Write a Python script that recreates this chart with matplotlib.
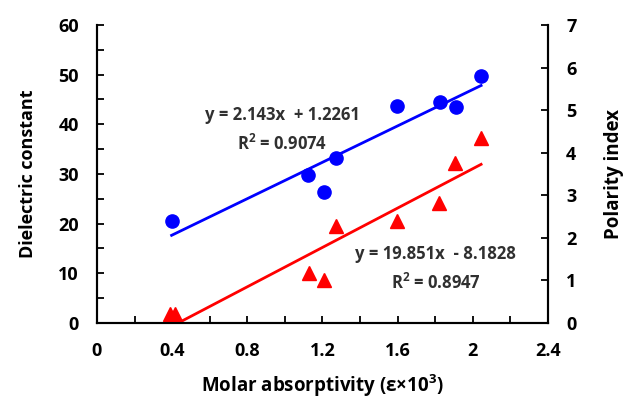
import numpy as np
import matplotlib.pyplot as plt
from matplotlib.ticker import MultipleLocator

plt.rcParams['font.family'] = ['Open Sans', 'DejaVu Sans']
plt.rcParams['font.weight'] = 'bold'
plt.rcParams['mathtext.default'] = 'regular'

# molar absorptivity (e x 10^3)
x_dielectric = [0.389, 0.415, 1.128, 1.21, 1.272, 1.598, 1.82, 1.905, 2.044]
dielectric = [1.9, 1.9, 10.1, 8.7, 19.5, 20.6, 24.2, 32.3, 37.2]

x_polarity = [0.397, 1.125, 1.21, 1.272, 1.595, 1.825, 1.909, 2.044]
polarity = [2.40, 3.48, 3.08, 3.87, 5.10, 5.20, 5.08, 5.79]

red_eq = "y = 19.851x  - 8.1828\nR$^2$ = 0.8947"
blue_eq = "y = 2.143x  + 1.2261\nR$^2$ = 0.9074"

fig = plt.figure(figsize=(6.27, 4.01), dpi=100)
ax = fig.add_axes([0.1547, 0.1945, 0.7193, 0.7432])
ax2 = ax.twinx()

# dielectric constant on left axis (red)
ax.plot(x_dielectric, dielectric, '^', color='red', markersize=10, clip_on=False, zorder=3)
k, b = np.polyfit(x_dielectric, dielectric, 1)
xs = np.array([min(x_dielectric), max(x_dielectric)])
ax.plot(xs, k * xs + b, color='red', lw=2)

# polarity index on right axis (blue)
ax2.plot(x_polarity, polarity, 'o', color='blue', markersize=9.5, zorder=3)
k2, b2 = np.polyfit(x_polarity, polarity, 1)
xs2 = np.array([min(x_polarity), max(x_polarity)])
ax2.plot(xs2, k2 * xs2 + b2, color='blue', lw=2)

ax.set_xlim(0, 2.4)
ax.set_ylim(0, 60)
ax2.set_ylim(0, 7)

ax.xaxis.set_major_locator(MultipleLocator(0.4))
ax.xaxis.set_minor_locator(MultipleLocator(0.2))
ax.yaxis.set_major_locator(MultipleLocator(10))
ax.yaxis.set_minor_locator(MultipleLocator(5))
ax2.yaxis.set_major_locator(MultipleLocator(1))
ax.set_xticks([0, 0.4, 0.8, 1.2, 1.6, 2, 2.4])
ax.set_xticklabels(['0', '0.4', '0.8', '1.2', '1.6', '2', '2.4'])

for a in (ax, ax2):
    a.spines['top'].set_visible(False)
    for s in a.spines.values():
        s.set_linewidth(1.5)
    a.tick_params(which='both', direction='in', width=1.3, labelsize=13, pad=13)
    a.tick_params(which='major', length=5)
    a.tick_params(which='minor', length=5)
    for lab in a.get_xticklabels() + a.get_yticklabels():
        lab.set_fontweight('bold')
ax.tick_params(axis='x', pad=14)

ax.set_xlabel('Molar absorptivity (\u03b5\u00d710$^3$)', fontsize=13.5, fontweight='bold')
ax.set_ylabel('Dielectric constant', fontsize=13, fontweight='bold')
ax2.set_ylabel('Polarity index', fontsize=13.5, fontweight='bold')
ax.xaxis.set_label_coords(0.5, -0.165)
ax.yaxis.set_label_coords(-0.133, 0.5)
ax2.yaxis.set_label_coords(1.125, 0.5)

ax.text(0.985, 38.9, blue_eq, ha='center', va='center', fontsize=12,
        fontweight='bold', color='#303030', linespacing=1.6)
ax.text(1.80, 10.9, red_eq, ha='center', va='center', fontsize=12,
        fontweight='bold', color='#303030', linespacing=1.6)

fig.savefig('out.png', dpi=100)
plt.close(fig)
